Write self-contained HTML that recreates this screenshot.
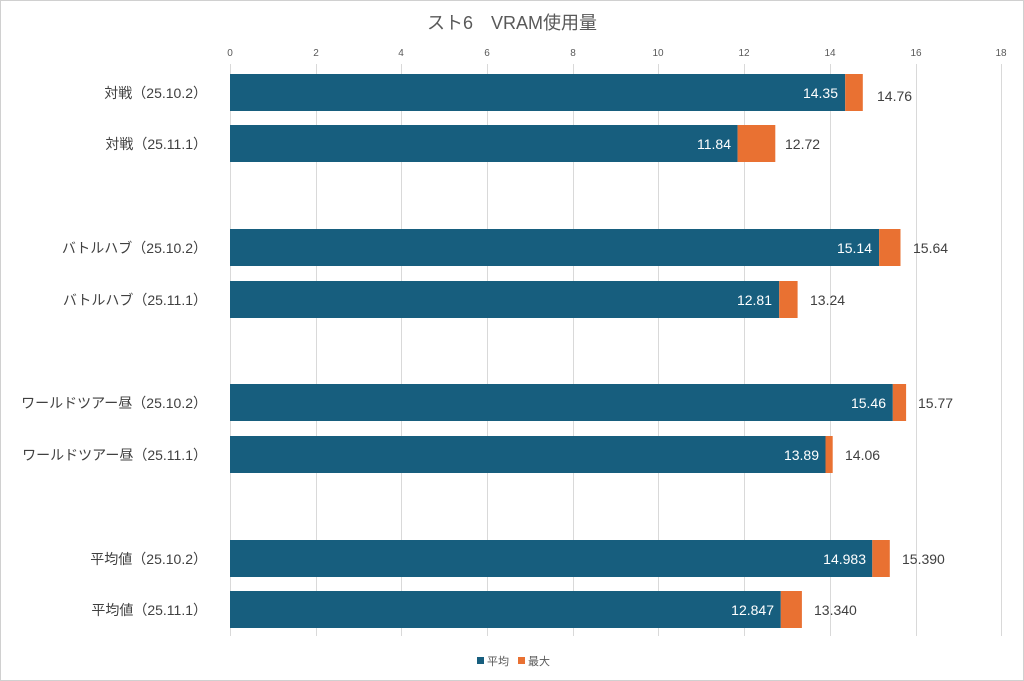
<!DOCTYPE html>
<html><head><meta charset="utf-8"><style>
html,body{margin:0;padding:0;background:#fff}
svg{display:block}
text{font-family:"Liberation Sans","Noto Sans CJK JP",sans-serif}
</style></head><body>
<svg width="1024" height="681" viewBox="0 0 1024 681">
<rect x="0.5" y="0.5" width="1023" height="680" fill="#fff" stroke="#d0d0d0"/>
<text x="512" y="29" font-size="18" fill="#595959" text-anchor="middle">スト6　VRAM使用量</text>
<g stroke="#d9d9d9" stroke-width="1">
<line x1="230.5" y1="64" x2="230.5" y2="636"/><line x1="316.5" y1="64" x2="316.5" y2="636"/>
<line x1="401.5" y1="64" x2="401.5" y2="636"/><line x1="487.5" y1="64" x2="487.5" y2="636"/>
<line x1="573.5" y1="64" x2="573.5" y2="636"/><line x1="658.5" y1="64" x2="658.5" y2="636"/>
<line x1="744.5" y1="64" x2="744.5" y2="636"/><line x1="830.5" y1="64" x2="830.5" y2="636"/>
<line x1="916.5" y1="64" x2="916.5" y2="636"/><line x1="1001.5" y1="64" x2="1001.5" y2="636"/>
</g>
<g font-size="10" fill="#595959" text-anchor="middle">
<text x="230" y="56">0</text><text x="316" y="56">2</text><text x="401" y="56">4</text><text x="487" y="56">6</text><text x="573" y="56">8</text><text x="658" y="56">10</text><text x="744" y="56">12</text><text x="830" y="56">14</text><text x="916" y="56">16</text><text x="1001" y="56">18</text>
</g>
<g font-size="14" fill="#404040" text-anchor="end">
<text x="207" y="98">対戦（25.10.2）</text>
<text x="207" y="149">対戦（25.11.1）</text>
<text x="207" y="253">バトルハブ（25.10.2）</text>
<text x="207" y="305">バトルハブ（25.11.1）</text>
<text x="207" y="408">ワールドツアー昼（25.10.2）</text>
<text x="207" y="460">ワールドツアー昼（25.11.1）</text>
<text x="207" y="564">平均値（25.10.2）</text>
<text x="207" y="615">平均値（25.11.1）</text>
</g>
<g fill="#175e7e">
<rect x="230" y="74" width="615.2" height="37"/>
<rect x="230" y="125" width="507.6" height="37"/>
<rect x="230" y="229" width="649.1" height="37"/>
<rect x="230" y="281" width="549.2" height="37"/>
<rect x="230" y="384" width="662.8" height="37"/>
<rect x="230" y="436" width="595.5" height="37"/>
<rect x="230" y="540" width="642.3" height="37"/>
<rect x="230" y="591" width="550.8" height="37"/>
</g>
<g fill="#e97132">
<rect x="845.2" y="74" width="17.6" height="37"/>
<rect x="737.6" y="125" width="37.7" height="37"/>
<rect x="879.1" y="229" width="21.4" height="37"/>
<rect x="779.2" y="281" width="18.4" height="37"/>
<rect x="892.8" y="384" width="13.3" height="37"/>
<rect x="825.5" y="436" width="7.2" height="37"/>
<rect x="872.3" y="540" width="17.5" height="37"/>
<rect x="780.8" y="591" width="21.1" height="37"/>
</g>
<g font-size="14" fill="#ffffff" text-anchor="end">
<text x="838" y="98">14.35</text>
<text x="731" y="149">11.84</text>
<text x="872" y="253">15.14</text>
<text x="772" y="305">12.81</text>
<text x="886" y="408">15.46</text>
<text x="819" y="460">13.89</text>
<text x="866" y="564">14.983</text>
<text x="774" y="615">12.847</text>
</g>
<g font-size="14" fill="#404040">
<text x="877" y="101">14.76</text>
<text x="785" y="149">12.72</text>
<text x="913" y="253">15.64</text>
<text x="810" y="305">13.24</text>
<text x="918" y="408">15.77</text>
<text x="845" y="460">14.06</text>
<text x="902" y="564">15.390</text>
<text x="814" y="615">13.340</text>
</g>
<rect x="477" y="657" width="7" height="7" fill="#175e7e"/>
<text x="487" y="665" font-size="11" fill="#595959">平均</text>
<rect x="518" y="657" width="7" height="7" fill="#e97132"/>
<text x="528" y="665" font-size="11" fill="#595959">最大</text>
</svg>
</body></html>
